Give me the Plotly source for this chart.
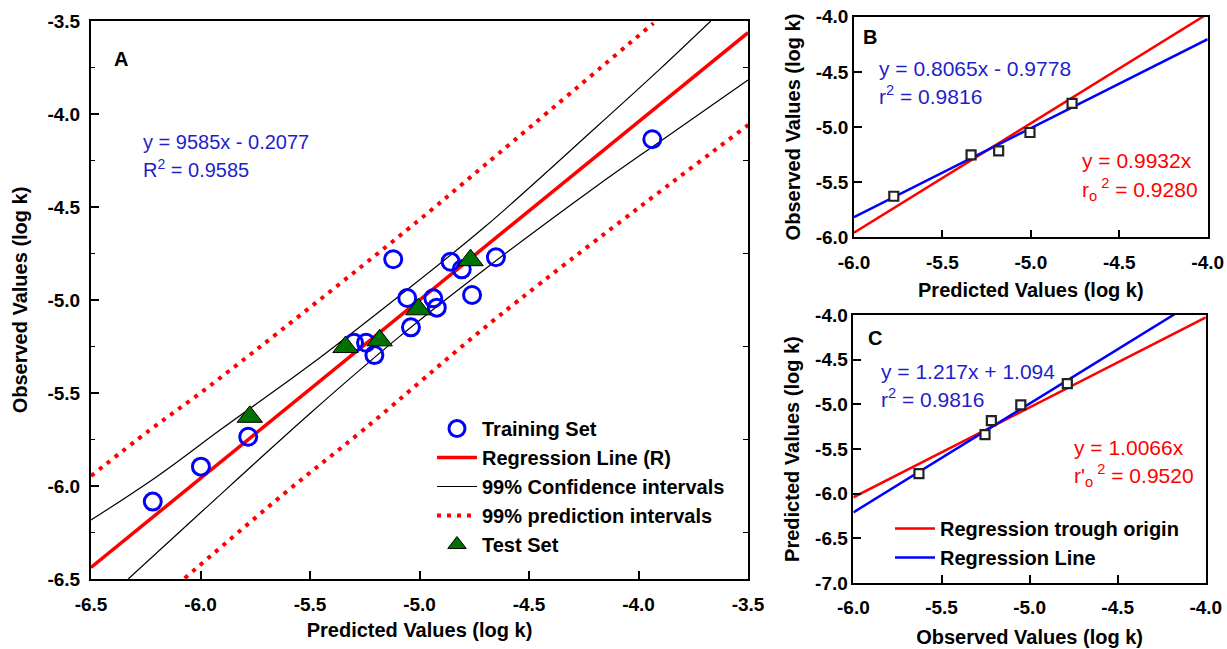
import plotly.graph_objects as go

# ---------------- data ----------------
# Panel A: training set (predicted, observed)
train_pred = [-5.120, -4.858, -4.807, -4.651, -4.760, -5.056, -4.937, -4.921,
              -5.039, -5.299, -5.244, -5.206, -5.782, -5.998, -6.218, -3.937]
train_obs = [-4.781, -4.794, -4.835, -4.770, -4.973, -4.989, -4.991, -5.041,
             -5.147, -5.230, -5.230, -5.296, -5.735, -5.896, -6.084, -4.136]
# Test set (predicted, observed)
test_pred = [-4.767, -5.005, -5.338, -5.182, -5.775]
test_obs = [-4.786, -5.050, -5.253, -5.217, -5.628]

# 99% confidence interval curves
ci_up_x = [-6.5, -6.2, -5.9, -5.5, -5.1, -4.7, -4.2, -3.9, -3.67]
ci_up_y = [-6.183, -5.95, -5.69, -5.35, -4.985, -4.605, -4.078, -3.756, -3.50]
ci_lo_x = [-6.33, -6.0, -5.5, -5.1, -4.7, -4.2, -3.9, -3.5]
ci_lo_y = [-6.50, -6.144, -5.61, -5.205, -4.833, -4.395, -4.146, -3.817]
# 99% prediction interval lines
pi_up_x = [-6.5, -6.231, -5.958, -5.058, -4.701, -3.932]
pi_up_y = [-5.946, -5.699, -5.462, -4.624, -4.274, -3.512]
pi_lo_x = [-6.072, -5.616, -5.257, -4.632, -3.499]
pi_lo_y = [-6.496, -6.039, -5.699, -5.081, -4.059]

# regression equations shown in the panels
fit_A = [0.9585, -0.2077]
fit_B_line = [0.8065, -0.9778]
fit_B_origin = [0.9932, 0.0]
fit_C_line = [1.217, 1.094]
fit_C_origin = [1.0066, 0.0]

range_A = [-6.5, -3.5]
range_BC_x = [-6.0, -4.0]
range_B_y = [-6.0, -4.0]
range_C_y = [-7.0, -4.0]

ticks_A = [-6.5, -6.0, -5.5, -5.0, -4.5, -4.0, -3.5]
ticks_A_text = ["-6.5", "-6.0", "-5.5", "-5.0", "-4.5", "-4.0", "-3.5"]
ticks_BC = [-6.0, -5.5, -5.0, -4.5, -4.0]
ticks_BC_text = ["-6.0", "-5.5", "-5.0", "-4.5", "-4.0"]
ticks_C_y = [-7.0, -6.5, -6.0, -5.5, -5.0, -4.5, -4.0]
ticks_C_y_text = ["-7.0", "-6.5", "-6.0", "-5.5", "-5.0", "-4.5", "-4.0"]
ticks_A_right = [-3.75, -4.25, -4.75, -5.25, -5.75, -6.25]


def line_pts(fit, xr):
    return list(xr), [fit[0] * v + fit[1] for v in xr]


FONT = "Liberation Sans"
RED = "#ff0000"
BLUE = "#0000ff"
TXT_BLUE = "#1f1fc8"

fig = go.Figure()

# ---------- Panel A ----------
x, y = line_pts(fit_A, range_A)
fig.add_trace(go.Scatter(x=pi_up_x, y=pi_up_y, mode="lines", line=dict(color=RED, width=4, dash="4px,6px", shape="spline"),
                         name="99% prediction intervals", legendrank=4, legendgroup="pi", xaxis="x", yaxis="y"))
fig.add_trace(go.Scatter(x=pi_lo_x, y=pi_lo_y, mode="lines", line=dict(color=RED, width=4, dash="4px,6px", shape="spline"),
                         showlegend=False, legendgroup="pi", xaxis="x", yaxis="y"))
fig.add_trace(go.Scatter(x=ci_up_x, y=ci_up_y, mode="lines", line=dict(color="black", width=1.2, shape="spline"),
                         name="99% Confidence intervals", legendrank=3, legendgroup="ci", xaxis="x", yaxis="y"))
fig.add_trace(go.Scatter(x=ci_lo_x, y=ci_lo_y, mode="lines", line=dict(color="black", width=1.2, shape="spline"),
                         showlegend=False, legendgroup="ci", xaxis="x", yaxis="y"))
fig.add_trace(go.Scatter(x=x, y=y, mode="lines", line=dict(color=RED, width=3.5),
                         name="Regression Line (R)", legendrank=2, legendgroup="reg", xaxis="x", yaxis="y"))
fig.add_trace(go.Scatter(x=train_pred, y=train_obs, mode="markers",
                         marker=dict(symbol="circle-open", size=17, color=BLUE, line=dict(width=3, color=BLUE)),
                         name="Training Set", legendrank=1, legendgroup="tr", xaxis="x", yaxis="y"))
fig.add_trace(go.Scatter(x=test_pred, y=test_obs, mode="markers",
                         marker=dict(symbol="triangle-up", size=22, color="#007000", line=dict(width=1, color="black")),
                         name="Test Set", legendrank=5, legendgroup="te", xaxis="x", yaxis="y"))

# ---------- Panel B ----------
x, y = line_pts(fit_B_origin, range_BC_x)
fig.add_trace(go.Scatter(x=x, y=y, mode="lines", line=dict(color=RED, width=2.5), showlegend=False, xaxis="x2", yaxis="y2"))
x, y = line_pts(fit_B_line, range_BC_x)
fig.add_trace(go.Scatter(x=x, y=y, mode="lines", line=dict(color=BLUE, width=2.5), showlegend=False, xaxis="x2", yaxis="y2"))
fig.add_trace(go.Scatter(x=test_pred, y=test_obs, mode="markers",
                         marker=dict(symbol="square", size=9, color="white", line=dict(width=2.2, color="#222222")),
                         showlegend=False, xaxis="x2", yaxis="y2"))

# ---------- Panel C ----------
x, y = line_pts(fit_C_origin, range_BC_x)
fig.add_trace(go.Scatter(x=x, y=y, mode="lines", line=dict(color=RED, width=2.5),
                         name="Regression trough origin", legend="legend2", legendgroup="c1", xaxis="x3", yaxis="y3"))
x, y = line_pts(fit_C_line, range_BC_x)
fig.add_trace(go.Scatter(x=x, y=y, mode="lines", line=dict(color=BLUE, width=2.5),
                         name="Regression Line", legend="legend2", legendgroup="c2", xaxis="x3", yaxis="y3"))
fig.add_trace(go.Scatter(x=test_obs, y=test_pred, mode="markers",
                         marker=dict(symbol="square", size=9, color="white", line=dict(width=2.2, color="#222222")),
                         showlegend=False, xaxis="x3", yaxis="y3"))

W, H = 1227, 649


def px(v):
    return v / W


def py(v):
    return 1 - v / H


tickfont = dict(family=FONT, size=19, color="black", weight="bold")
titlefont = dict(family=FONT, size=20, color="black", weight="bold")


def axis(domain, rng, tv, tt, title, anchor, standoff, lblgap, minor=False, linew=2):
    d = dict(domain=domain, range=rng, tickvals=tv, ticktext=tt,
             ticks="inside", ticklen=8, tickwidth=1.5, tickcolor="black",
             showline=True, linecolor="black", linewidth=linew, mirror=True,
             showgrid=False, zeroline=False, anchor=anchor, tickfont=tickfont,
             ticklabelstandoff=lblgap,
             title=dict(text=title, font=titlefont, standoff=standoff), automargin=False)
    if minor:
        d["minor"] = dict(ticks="inside", ticklen=4, tickwidth=1.2, tickcolor="black", dtick=0.25, showgrid=False)
    return d


fig.update_layout(
    width=W, height=H,
    margin=dict(l=0, r=0, t=0, b=0),
    paper_bgcolor="white", plot_bgcolor="white",
    xaxis=axis([px(91), px(748)], range_A, ticks_A, ticks_A_text, "Predicted Values (log k)", "y", 9, 7),
    yaxis=axis([py(579), py(21)], range_A, ticks_A, ticks_A_text, "Observed Values (log k)", "x", 14, 5, minor=True),
    yaxis4=dict(overlaying="y", side="right", anchor="x", range=range_A,
                tickvals=ticks_A_right, ticks="inside", ticklen=5,
                tickwidth=1.2, tickcolor="black", showticklabels=False, showgrid=False,
                zeroline=False, showline=False),
    xaxis2=axis([px(854), px(1207.7)], range_BC_x, ticks_BC, ticks_BC_text, "Predicted Values (log k)", "y2", 11, 7, linew=1.5),
    yaxis2=axis([py(237.3), py(16.7)], range_B_y, ticks_BC, ticks_BC_text, "Observed Values (log k)", "x2", 10, 0, linew=1.5),
    xaxis3=axis([px(853.4), px(1205.8)], range_BC_x, ticks_BC, ticks_BC_text, "Observed Values (log k)", "y3", 13, 6, linew=1.5),
    yaxis3=axis([py(583.1), py(315.1)], range_C_y, ticks_C_y, ticks_C_y_text, "Predicted Values (log k)", "x3", 10, 0, linew=1.5),
    legend=dict(x=px(432), y=py(409), xanchor="left", yanchor="top", itemwidth=40,
                font=dict(family=FONT, size=20, color="black", weight="bold"),
                bgcolor="rgba(0,0,0,0)", tracegroupgap=0, traceorder="grouped"),
    legend2=dict(x=px(890), y=py(509), xanchor="left", yanchor="top", itemwidth=40,
                 font=dict(family=FONT, size=20, color="black", weight="bold"),
                 bgcolor="rgba(0,0,0,0)", tracegroupgap=0, traceorder="grouped"),
    showlegend=True,
)
# empty trace to keep the right-hand tick axis of panel A
fig.add_trace(go.Scatter(x=[], y=[], xaxis="x", yaxis="y4", showlegend=False, hoverinfo="skip"))


def ann(text, x0, y0, color="black", size=20, bold=False, xanchor="left"):
    fig.add_annotation(text=text, x=px(x0), y=py(y0), xref="paper", yref="paper",
                       xanchor=xanchor, yanchor="middle", showarrow=False,
                       font=dict(family=FONT, size=size, color=color, weight="bold" if bold else "normal"))


ann("A", 121, 59, bold=True, xanchor="center")
ann("y = 9585x - 0.2077", 140.7, 142, TXT_BLUE)
ann("R<sup>2</sup> = 0.9585", 140.7, 168, TXT_BLUE)
ann("B", 870, 37, bold=True, xanchor="center")
ann("y = 0.8065x - 0.9778", 876.7, 68, TXT_BLUE, size=21)
ann("r<sup>2</sup> = 0.9816", 876.7, 95, TXT_BLUE, size=21)
ann("y = 0.9932x", 1079.5, 160.8, RED, size=21)
ann("r<sub>o</sub><sup> 2</sup> = 0.9280", 1079.5, 189.3, RED, size=21)
ann("C", 875, 338, bold=True, xanchor="center")
ann("y = 1.217x + 1.094", 878.5, 371, TXT_BLUE, size=21)
ann("r<sup>2</sup> = 0.9816", 878.5, 398, TXT_BLUE, size=21)
ann("y = 1.0066x", 1071.8, 447.4, RED, size=21)
ann("r'<sub>o</sub><sup> 2</sup> = 0.9520", 1071.8, 475.9, RED, size=21)

fig.write_html("out.html", config={"displayModeBar": False},
               post_script="document.body.style.margin='0';document.body.style.overflow='hidden';")
